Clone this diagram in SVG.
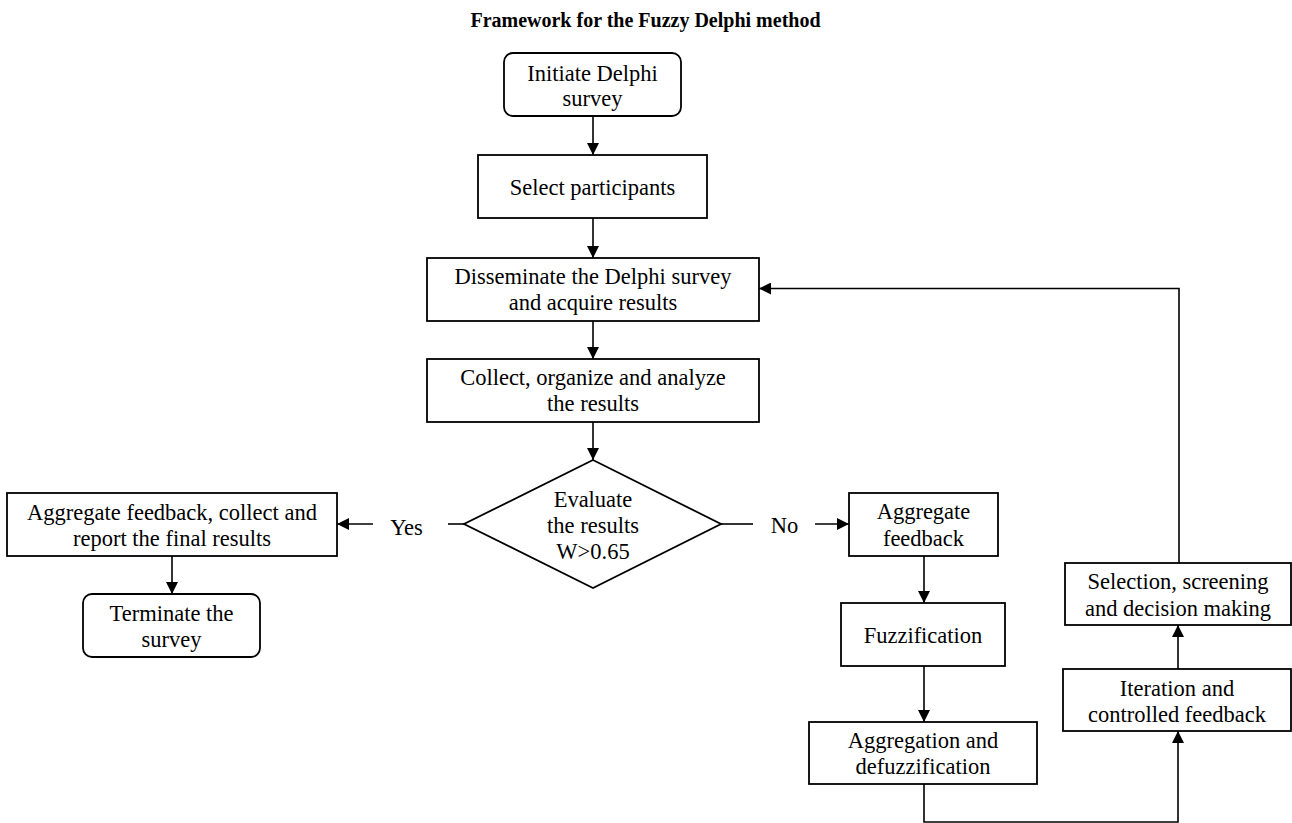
<svg xmlns="http://www.w3.org/2000/svg" width="1292" height="823" viewBox="0 0 1292 823">
  <defs>
    <marker id="arrow" viewBox="0 0 12 12" refX="12" refY="6" markerWidth="12" markerHeight="12" markerUnits="userSpaceOnUse" orient="auto">
      <path d="M0,0 L12,6 L0,12 Z" fill="#000"/>
    </marker>
    <style>
      .box { fill: #fff; stroke: #000; stroke-width: 1.8; }
      .lbl { font-family: "Liberation Serif", "Times New Roman", serif; font-size: 22.5px; fill: #000; text-anchor: middle; }
      .title { font-family: "Liberation Serif", "Times New Roman", serif; font-size: 20px; font-weight: bold; fill: #000; text-anchor: middle; }
      .edge { fill: none; stroke: #000; stroke-width: 1.6; }
    </style>
  </defs>
  <rect width="1292" height="823" fill="#fff"/>

  <text class="title" x="645.5" y="27">Framework for the Fuzzy Delphi method</text>

  <!-- connectors -->
  <g id="connectors">
    <path class="edge" d="M593,116 V155" marker-end="url(#arrow)"/>
    <path class="edge" d="M593,218 V258" marker-end="url(#arrow)"/>
    <path class="edge" d="M593,321 V359" marker-end="url(#arrow)"/>
    <path class="edge" d="M593,422 V460" marker-end="url(#arrow)"/>
    <path class="edge" d="M464,524 H448"/>
    <path class="edge" d="M373,524 H337" marker-end="url(#arrow)"/>
    <path class="edge" d="M172,556 V594" marker-end="url(#arrow)"/>
    <path class="edge" d="M721,524 H753"/>
    <path class="edge" d="M815,524 H849" marker-end="url(#arrow)"/>
    <path class="edge" d="M924,556 V603" marker-end="url(#arrow)"/>
    <path class="edge" d="M924,666 V722" marker-end="url(#arrow)"/>
    <path class="edge" d="M924,784 V822 H1178 V731" marker-end="url(#arrow)"/>
    <path class="edge" d="M1178,669 V625" marker-end="url(#arrow)"/>
    <path class="edge" d="M1179,563 V288.5 H759" marker-end="url(#arrow)"/>
  </g>

  <!-- edge labels -->
  <text class="lbl" x="406.5" y="535">Yes</text>
  <text class="lbl" x="784.5" y="533">No</text>

  <g id="initiate">
    <rect class="box" x="504" y="53" width="177" height="63" rx="9"/>
    <text class="lbl" x="592.5" y="80.5">Initiate Delphi</text>
    <text class="lbl" x="592.5" y="106">survey</text>
  </g>

  <g id="select">
    <rect class="box" x="478" y="155" width="229" height="63"/>
    <text class="lbl" x="592.5" y="195">Select participants</text>
  </g>

  <g id="disseminate">
    <rect class="box" x="427" y="258" width="332" height="63"/>
    <text class="lbl" x="593" y="284">Disseminate the Delphi survey</text>
    <text class="lbl" x="593" y="310">and acquire results</text>
  </g>

  <g id="collect">
    <rect class="box" x="427" y="359" width="332" height="63"/>
    <text class="lbl" x="593" y="385">Collect, organize and analyze</text>
    <text class="lbl" x="593" y="411">the results</text>
  </g>

  <g id="evaluate">
    <polygon class="box" points="593,460 721,524 593,588 464,524"/>
    <text class="lbl" x="593" y="507">Evaluate</text>
    <text class="lbl" x="593" y="533">the results</text>
    <text class="lbl" x="593" y="559">W&gt;0.65</text>
  </g>

  <g id="report">
    <rect class="box" x="7" y="493" width="330" height="63"/>
    <text class="lbl" x="172" y="520">Aggregate feedback, collect and</text>
    <text class="lbl" x="172" y="546">report the final results</text>
  </g>

  <g id="terminate">
    <rect class="box" x="83" y="594" width="177" height="63" rx="9"/>
    <text class="lbl" x="171.5" y="621">Terminate the</text>
    <text class="lbl" x="171.5" y="647">survey</text>
  </g>

  <g id="aggregate-feedback">
    <rect class="box" x="849" y="493" width="149" height="63"/>
    <text class="lbl" x="923.5" y="519">Aggregate</text>
    <text class="lbl" x="923.5" y="546">feedback</text>
  </g>

  <g id="fuzzification">
    <rect class="box" x="841" y="603" width="164" height="63"/>
    <text class="lbl" x="923" y="642.5">Fuzzification</text>
  </g>

  <g id="aggregation">
    <rect class="box" x="809" y="722" width="228" height="62"/>
    <text class="lbl" x="923" y="748">Aggregation and</text>
    <text class="lbl" x="923" y="774">defuzzification</text>
  </g>

  <g id="iteration">
    <rect class="box" x="1063" y="669" width="228" height="62"/>
    <text class="lbl" x="1177" y="696">Iteration and</text>
    <text class="lbl" x="1177" y="722">controlled feedback</text>
  </g>

  <g id="selection">
    <rect class="box" x="1065" y="563" width="226" height="62"/>
    <text class="lbl" x="1178" y="589">Selection, screening</text>
    <text class="lbl" x="1178" y="616">and decision making</text>
  </g>
</svg>
